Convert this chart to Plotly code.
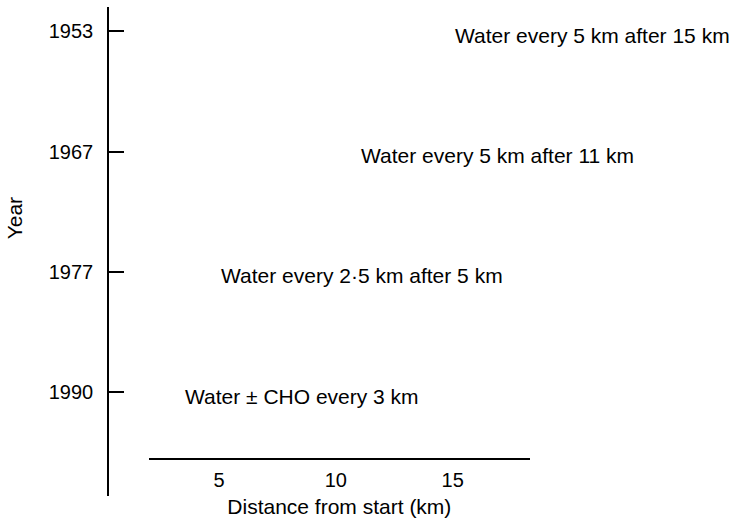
import plotly.graph_objects as go

years = ["1953", "1967", "1977", "1990"]
start_km = [15, 11, 5, 3]
labels = [
    "Water every 5 km after 15 km",
    "Water every 5 km after 11 km",
    "Water every 2\u00b75 km after 5 km",
    "Water \u00b1 CHO every 3 km",
]
x_ticks = [5, 10, 15]

FONT = "Liberation Sans, Arial, Helvetica, sans-serif"

fig = go.Figure()
# invisible trace to establish the axes
fig.add_trace(go.Scatter(x=start_km, y=years, mode="markers",
                         marker=dict(opacity=0), hoverinfo="skip", showlegend=False))

for i, (xv, t) in enumerate(zip(start_km, labels)):
    fig.add_annotation(x=xv, y=i, text=t, showarrow=False, xanchor="left",
                       yanchor="middle", yshift=-4,
                       xshift=11 if i == 3 else 0,
                       font=dict(family=FONT, size=21, color="black"))

fig.add_annotation(xref="paper", yref="paper", x=-0.151, y=0.568, text="Year",
                   textangle=-90, showarrow=False, xanchor="center", yanchor="middle",
                   font=dict(family=FONT, size=21, color="black"))

fig.update_layout(
    width=735, height=528,
    margin=dict(l=108, r=5, t=7, b=32),
    paper_bgcolor="white", plot_bgcolor="white",
    font=dict(family=FONT, size=20, color="black"),
    xaxis=dict(
        domain=[0.0659, 0.678], range=[2.0, 18.3],
        anchor="free", position=0.0757,
        showline=True, linecolor="black", linewidth=1.5,
        showgrid=False, zeroline=False, ticks="",
        tickvals=x_ticks, ticktext=[str(v) for v in x_ticks],
        tickfont=dict(family=FONT, size=20, color="black"),
        ticklabelstandoff=3,
        title=dict(text="Distance from start (km)", standoff=9,
                   font=dict(family=FONT, size=21, color="black")),
        automargin=False,
    ),
    yaxis=dict(
        type="category", categoryorder="array", categoryarray=years,
        range=[3.86, -0.2],
        anchor="free", position=0,
        showline=True, linecolor="black", linewidth=1.5,
        showgrid=False, zeroline=False,
        ticks="inside", ticklen=15, tickwidth=1.5, tickcolor="black",
        tickfont=dict(family=FONT, size=20, color="black"),
        ticklabelstandoff=10,
        automargin=False,
    ),
)

fig.write_html("out.html", config={"displayModeBar": False},
               post_script="document.body.style.margin='0';document.body.style.padding='0';")
